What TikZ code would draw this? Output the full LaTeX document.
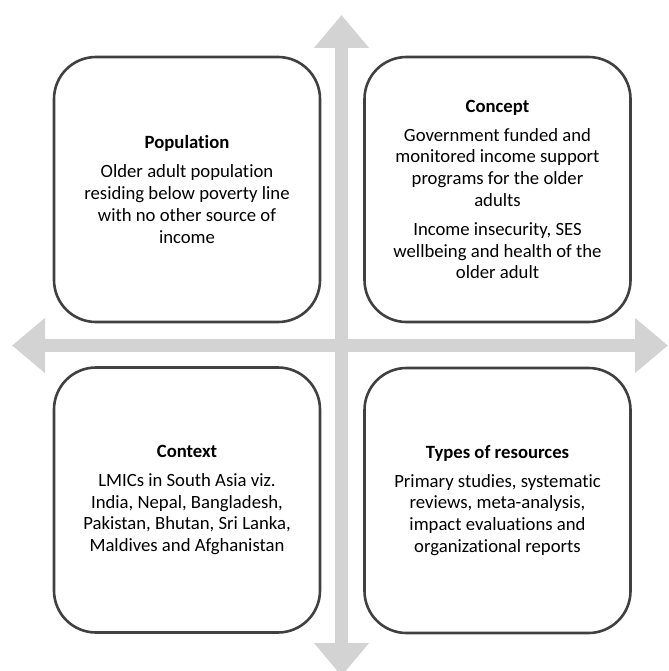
\documentclass[tikz,border=0pt]{standalone}
\usepackage{fontspec}
\setmainfont{Carlito}[Ligatures=NoCommon]
\usetikzlibrary{arrows.meta}

\definecolor{boxline}{HTML}{404040}
\definecolor{arrowgray}{HTML}{D3D3D3}

\tikzset{
    pccbox/.style={draw=boxline, line width=2.6bp, rounded corners=42bp,
        minimum width=266bp, minimum height=265bp, align=center,
        font=\fontsize{18.7bp}{21.8bp}\selectfont},
    bigarrow/.style={draw=arrowgray, line width=13.5bp,
        {Triangle[width=53bp,length=33bp]}-{Triangle[width=53bp,length=33bp]}}
}

\begin{document}
\begin{tikzpicture}[x=1bp, y=-1bp]
    \useasboundingbox (0,0) rectangle (669,671);

    % arrow ends
    \coordinate (up) at (341.5,15);
    \coordinate (down) at (341.5,676);
    \coordinate (left) at (12,345.5);
    \coordinate (right) at (668,345.5);
    \draw[bigarrow] (left) -- (right);
    \draw[bigarrow] (up) -- (down);

    % the four boxes
    \node[pccbox] (population) at (187,189.5) {\textbf{Population}\\[7bp]
        Older adult population\\ residing below poverty line\\
        with no other source of\\ income};
    \node[pccbox] (concept) at (497.5,189.5) {\textbf{Concept}\\[7bp]
        Government funded and\\ monitored income support\\
        programs for the older\\ adults\\[7bp]
        Income insecurity, SES\\ wellbeing and health of the\\ older adult};
    \node[pccbox] (context) at (187,500) {\textbf{Context}\\[7bp]
        LMICs in South Asia viz.\\ India, Nepal, Bangladesh,\\
        Pakistan, Bhutan, Sri Lanka,\\ Maldives and Afghanistan};
    \node[pccbox] (resources) at (497.5,500.5) {\textbf{Types of resources}\\[7bp]
        Primary studies, systematic\\ reviews, meta-analysis,\\
        impact evaluations and\\ organizational reports};
\end{tikzpicture}
\end{document}
